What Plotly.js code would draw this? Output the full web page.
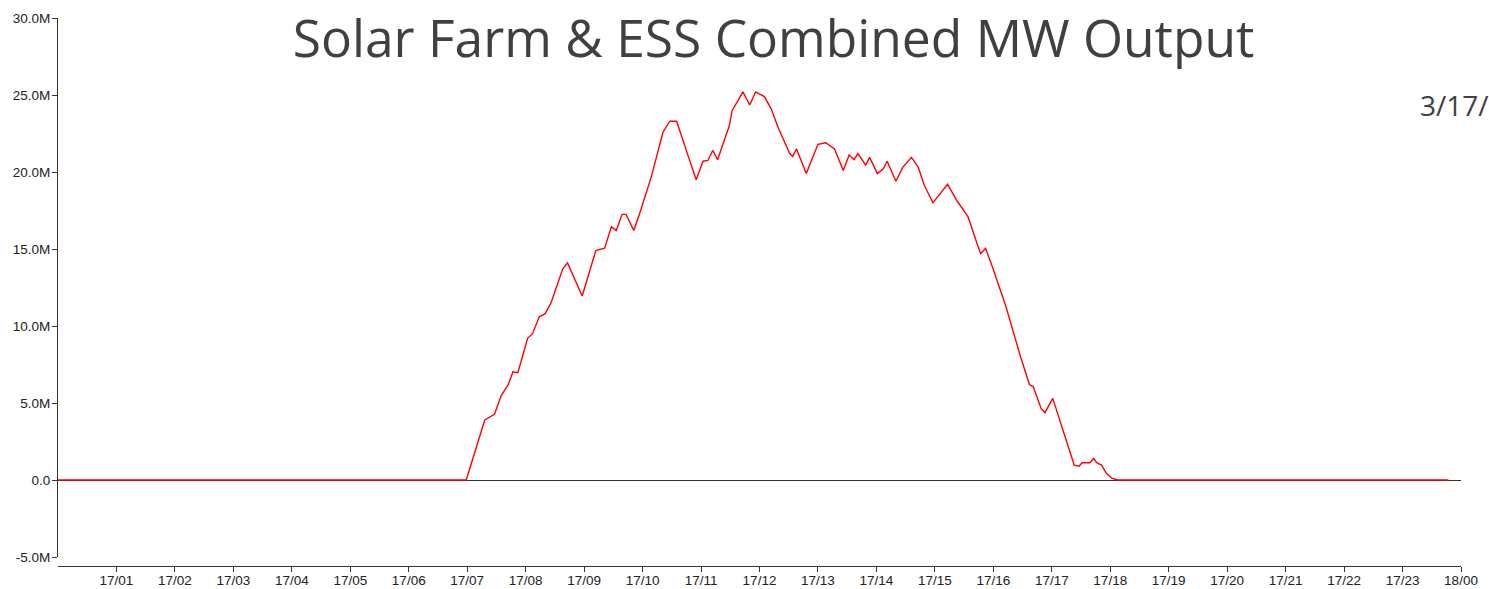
<!DOCTYPE html>
<html>
<head>
<meta charset="utf-8">
<script src="https://cdn.plot.ly/plotly-3.0.1.min.js"></script>
<style>html,body{margin:0;padding:0;background:#fff;}</style>
</head>
<body>
<div id="chart" style="width:1489px;height:589px;"></div>
<script>
// Time of day on 3/17 (HH:MM) and combined output (MW)
const times = ["00:00","06:42","06:59","07:18","07:28","07:35","07:42","07:47","07:52","08:02","08:07","08:14","08:20","08:26","08:38","08:43","08:58","09:12","09:21","09:28","09:33","09:39","09:43","09:51","09:57","10:09","10:21","10:28","10:35","10:47","10:55","11:02","11:07","11:12","11:17","11:29","11:32","11:43","11:50","11:56","12:05","12:12","12:19","12:31","12:34","12:38","12:48","13:00","13:08","13:17","13:26","13:32","13:37","13:41","13:49","13:53","14:01","14:07","14:11","14:20","14:27","14:36","14:43","14:49","14:58","15:03","15:13","15:23","15:34","15:43","15:47","15:52","15:59","16:13","16:27","16:37","16:41","16:49","16:53","17:01","17:11","17:23","17:28","17:31","17:39","17:43","17:46","17:51","17:56","18:02","18:08","23:47"];
const outputMW = [0,0,0,3.9,4.27,5.5,6.17,7.03,6.97,9.2,9.5,10.6,10.8,11.5,13.7,14.1,11.95,14.9,15.05,16.45,16.2,17.25,17.25,16.2,17.3,19.7,22.6,23.3,23.3,21.0,19.5,20.7,20.75,21.4,20.8,23.0,24.0,25.2,24.35,25.2,24.9,24.1,22.9,21.2,21.0,21.5,19.9,21.8,21.9,21.5,20.1,21.1,20.8,21.2,20.45,20.95,19.9,20.2,20.7,19.4,20.3,20.95,20.3,19.15,18.0,18.4,19.2,18.1,17.1,15.4,14.7,15.05,13.85,11.25,8.2,6.2,6.05,4.65,4.37,5.3,3.35,0.97,0.9,1.12,1.12,1.4,1.12,0.97,0.43,0.1,0,0];
const xTickVals = ["2020-03-17 01:00","2020-03-17 02:00","2020-03-17 03:00","2020-03-17 04:00","2020-03-17 05:00","2020-03-17 06:00","2020-03-17 07:00","2020-03-17 08:00","2020-03-17 09:00","2020-03-17 10:00","2020-03-17 11:00","2020-03-17 12:00","2020-03-17 13:00","2020-03-17 14:00","2020-03-17 15:00","2020-03-17 16:00","2020-03-17 17:00","2020-03-17 18:00","2020-03-17 19:00","2020-03-17 20:00","2020-03-17 21:00","2020-03-17 22:00","2020-03-17 23:00","2020-03-18 00:00"];
const xTickText = ["17/01","17/02","17/03","17/04","17/05","17/06","17/07","17/08","17/09","17/10","17/11","17/12","17/13","17/14","17/15","17/16","17/17","17/18","17/19","17/20","17/21","17/22","17/23","18/00"];
const yTickVals = [-5,0,5,10,15,20,25,30];
const yTickText = ["-5.0M","0.0","5.0M","10.0M","15.0M","20.0M","25.0M","30.0M"];

const x = times.map(t => "2020-03-17 " + t);

const trace = {
  x: x, y: outputMW, type: "scatter", mode: "lines",
  line: {color: "#ff0000", width: 1.4, shape: "linear"},
  hoverinfo: "skip", showlegend: false
};

const tickFont = {family: "Liberation Sans, Arial, sans-serif", size: 13.5, color: "#222"};

const layout = {
  width: 1489, height: 589,
  margin: {l: 58, r: 28, t: 18, b: 23, pad: 0},
  paper_bgcolor: "#fff", plot_bgcolor: "#fff",
  title: {
    text: "Solar Farm & ESS Combined MW Output",
    font: {family: "Open Sans, sans-serif", size: 51.5, color: "#404040"},
    x: 0.5195, xref: "container", xanchor: "center",
    y: 0.934, yref: "container", yanchor: "middle"
  },
  xaxis: {
    type: "date",
    range: ["2020-03-17 00:00", "2020-03-18 00:00"],
    anchor: "free", position: 0,
    showgrid: false, zeroline: false,
    showline: true, linecolor: "#333", linewidth: 1,
    ticks: "outside", ticklen: 5, tickcolor: "#333", tickwidth: 1,
    ticklabelstandoff: -3,
    tickmode: "array", tickvals: xTickVals, ticktext: xTickText,
    tickfont: tickFont, fixedrange: true
  },
  yaxis: {
    domain: [9/548, 1],
    range: [-5, 30],
    showgrid: false,
    zeroline: true, zerolinecolor: "#333", zerolinewidth: 1,
    showline: true, linecolor: "#333", linewidth: 1,
    ticks: "outside", ticklen: 5, tickcolor: "#333", tickwidth: 1,
    ticklabelstandoff: -1,
    tickmode: "array", tickvals: yTickVals, ticktext: yTickText,
    tickfont: tickFont, fixedrange: true
  },
  annotations: [{
    text: "3/17/", xref: "paper", yref: "paper",
    x: (1418-58)/1403, xanchor: "left",
    y: 1 - (105-18)/548, yanchor: "middle",
    showarrow: false,
    font: {family: "Open Sans, sans-serif", size: 28, color: "#404040"}
  }]
};

Plotly.newPlot("chart", [trace], layout, {staticPlot: true, displayModeBar: false});
</script>
</body>
</html>
